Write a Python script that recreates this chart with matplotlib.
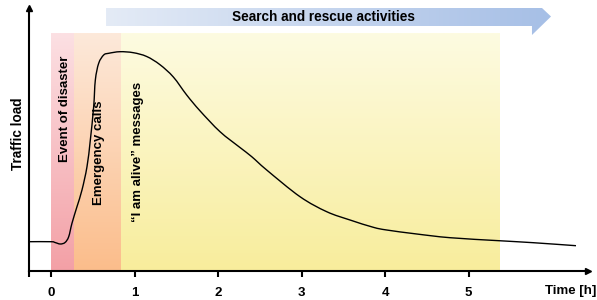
import matplotlib
matplotlib.use("Agg")
import matplotlib.pyplot as plt
import numpy as np
from matplotlib.patches import Polygon, PathPatch
from matplotlib.path import Path
from matplotlib.colors import to_rgb

plt.rcParams['font.family'] = ['Liberation Sans', 'DejaVu Sans']
plt.rcParams['font.weight'] = 'bold'

# ---- data ----
time_h = [-0.263, 0.0, 0.048, 0.111, 0.168, 0.212, 0.251, 0.311, 0.371, 0.431,
          0.471, 0.511, 0.531, 0.571, 0.631, 0.691, 0.826, 0.986, 1.146, 1.305,
          1.465, 1.625, 1.784, 2.024, 2.263, 2.404, 2.583, 2.982, 3.302, 3.581,
          3.860, 4.020, 4.380, 4.778, 5.365, 5.776, 6.287]
traffic = [29, 29, 28.2, 26.7, 28.2, 34, 47.4, 64, 80.7, 104,
           130.7, 164, 190.7, 207.4, 215.7, 217.4, 219, 218, 214.2, 206,
           193.7, 175.7, 159.9, 139, 123.2, 114, 100.7, 74, 59, 50.7,
           43.4, 40.7, 36.7, 33, 30, 28, 25]

phase_labels = ["Event of disaster", "Emergency calls", "\u201cI am alive\u201d messages"]
phase_start = [0.0, 0.275, 0.835]
phase_end = [0.275, 0.835, 5.37]
phase_top_colors = ["#fce0e3", "#fde9da", "#fdfbe1"]
phase_bottom_colors = ["#f3a0a6", "#fbbd8b", "#f8ed9c"]
phase_label_x = [0.165, 0.571, 1.042]
phase_label_y = [161.7, 118.2, 118.7]

x_ticks = [0, 1, 2, 3, 4, 5]
x_tick_labels = ["0", "1", "2", "3", "4", "5"]

banner_text = "Search and rescue activities"
banner_start = 0.659
banner_tip = 5.988

xmin, xmax = -0.2635, 6.431
ymax = 262.7
shade_top = 237.7

fig = plt.figure(figsize=(5.97, 3.0), dpi=100)
ax = fig.add_axes([29/597, (300-270.7)/300, (588-29)/597, (270.7-8)/300])

# shaded phases with vertical gradients
for s, e, ct, cb in zip(phase_start, phase_end, phase_top_colors, phase_bottom_colors):
    t = np.linspace(0, 1, 128)[:, None, None]
    grad = (1 - t) * np.array(to_rgb(ct))[None, None, :] + t * np.array(to_rgb(cb))[None, None, :]
    ax.imshow(grad, extent=(s, e, 0, shade_top), aspect='auto', origin='upper', zorder=0,
              interpolation='bilinear')

# banner arrow with horizontal gradient
body_top, body_bot = ymax, ymax - 18
head_bot = ymax - 27
tip_y = ymax - 8.5
head_base = 5.76
corner = 5.88
poly = Polygon([(banner_start, body_top), (corner, body_top), (banner_tip, tip_y),
                (head_base, head_bot), (head_base, body_bot), (banner_start, body_bot)],
               closed=True, facecolor='none', edgecolor='none', transform=ax.transData)
ax.add_patch(poly)
g = np.linspace(0, 1, 256)[None, :, None]
bgrad = (1 - g) * np.array(to_rgb("#e4ebf6"))[None, None, :] + g * np.array(to_rgb("#a6bfe6"))[None, None, :]
im = ax.imshow(bgrad, extent=(banner_start, banner_tip, head_bot, body_top), aspect='auto',
               origin='upper', zorder=1, interpolation='bilinear')
im.set_clip_path(poly)
ax.text(3.266, ymax - 9, banner_text, ha='center', va='center', fontsize=9.8,
        fontweight='bold', zorder=3)

# smooth curve through the read points (Catmull-Rom rendered as cubic Bezier path)
P = np.column_stack([time_h, traffic])
Pext = np.vstack([P[0], P, P[-1]])
verts = [tuple(P[0])]
codes = [Path.MOVETO]
for i in range(1, len(Pext) - 2):
    p0, p1, p2, p3 = Pext[i - 1], Pext[i], Pext[i + 1], Pext[i + 2]
    c1 = p1 + (p2 - p0) / 6.0
    c2 = p2 - (p3 - p1) / 6.0
    verts += [tuple(c1), tuple(c2), tuple(p2)]
    codes += [Path.CURVE4] * 3
ax.add_patch(PathPatch(Path(verts, codes), facecolor='none', edgecolor='black', lw=1.0,
                       zorder=4, clip_on=False))

# phase labels
for lab, lx, ly in zip(phase_labels, phase_label_x, phase_label_y):
    ax.text(lx, ly, lab, rotation=90, ha='center', va='center', fontsize=9.5,
            fontweight='bold', zorder=5)

ax.set_xlim(xmin, xmax)
ax.set_ylim(0, ymax)
for sp in ['top', 'right']:
    ax.spines[sp].set_visible(False)
for sp in ['left', 'bottom']:
    ax.spines[sp].set_linewidth(1.5)
ax.set_yticks([])
ax.set_xticks([xmin] + x_ticks)
ax.set_xticklabels([""] + x_tick_labels, fontsize=9.5, fontweight='bold')
ax.tick_params(axis='x', direction='out', length=4.5, width=1.5, pad=7)
ax.plot(1, 0, marker='>', color='black', markersize=5, transform=ax.transAxes, clip_on=False)
ax.plot(0, 1, marker='^', color='black', markersize=5, transform=ax.transAxes, clip_on=False)

fig.text(17.5/597, 1 - 134/300, "Traffic load", rotation=90, ha='center', va='center',
         fontsize=9.8, fontweight='bold')
fig.text(596/597, 1 - 291/300, "Time [h]", ha='right', va='center', fontsize=9.5,
         fontweight='bold')

fig.savefig("out.png", dpi=100)
